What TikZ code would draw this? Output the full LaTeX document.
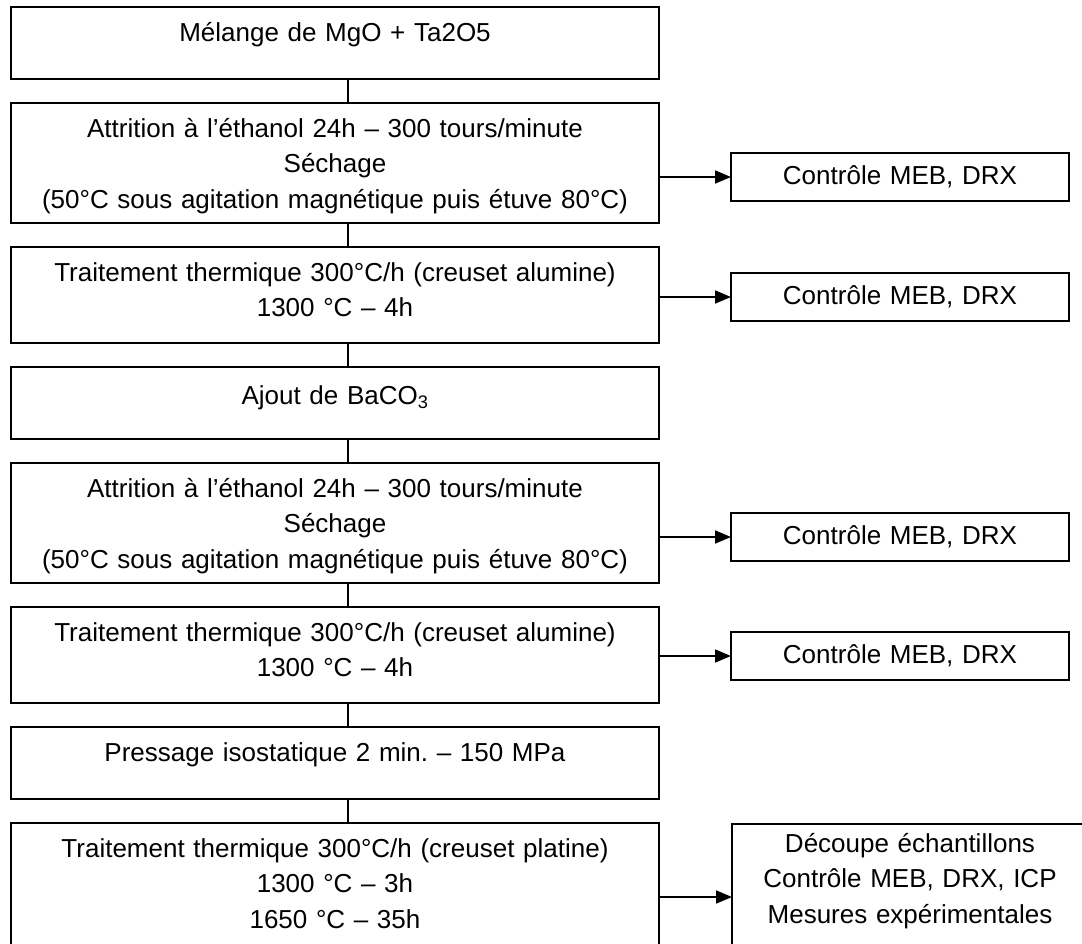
\documentclass[tikz,border=0pt]{standalone}
\usepackage{fontspec}
\setmainfont{Liberation Sans}
\usepackage{tikz}
\usetikzlibrary{arrows.meta,calc,positioning}

\tikzset{
    etape/.style={draw, line width=1.7pt, anchor=north west, inner sep=0pt, outer sep=0pt,
        text width=648pt, align=center, text height=34pt,
        font=\fontsize{26}{35.5}\selectfont},
    controle/.style={draw, line width=1.7pt, anchor=north west, inner sep=0pt, outer sep=0pt,
        text width=338pt, align=center, text height=31pt, text depth=17pt,
        font=\fontsize{26}{35.5}\selectfont},
    lien/.style={line width=1.7pt}
}

\begin{document}
\begin{tikzpicture}[x=1pt, y=-1pt, >={Triangle[length=16pt,width=13pt]}]
    \clip (0,0) rectangle (1082,943);

    % Process steps
    \node[etape, text depth=38pt] (etape1) at (11,7) {M\'elange de MgO + Ta2O5};
    \node[etape, text depth=86pt, below=24pt of etape1] (etape2)
        {Attrition \`a l’\'ethanol 24h – 300 tours/minute\\S\'echage\\(50°C sous agitation magn\'etique puis \'etuve 80°C)};
    \node[etape, text depth=62pt, below=24pt of etape2] (etape3)
        {Traitement thermique 300°C/h (creuset alumine)\\1300 °C – 4h};
    \node[etape, text height=37pt, text depth=35pt, below=24pt of etape3] (etape4)
        {Ajout de BaCO\textsubscript{3}};
    \node[etape, text depth=86pt, below=24pt of etape4] (etape5)
        {Attrition \`a l’\'ethanol 24h – 300 tours/minute\\S\'echage\\(50°C sous agitation magn\'etique puis \'etuve 80°C)};
    \node[etape, text depth=62pt, below=24pt of etape5] (etape6)
        {Traitement thermique 300°C/h (creuset alumine)\\1300 °C – 4h};
    \node[etape, text depth=38pt, below=24pt of etape6] (etape7)
        {Pressage isostatique 2 min.\ – 150 MPa};
    \node[etape, text depth=112pt, below=24pt of etape7] (etape8)
        {Traitement thermique 300°C/h (creuset platine)\\1300 °C – 3h\\1650 °C – 35h};

    % Controls
    \node[controle] (controle1) at (731,153) {Contr\^ole MEB, DRX};
    \node[controle] (controle2) at (731,273) {Contr\^ole MEB, DRX};
    \node[controle] (controle3) at (731,513) {Contr\^ole MEB, DRX};
    \node[controle] (controle4) at (731,632) {Contr\^ole MEB, DRX};
    \node[controle, text width=356pt, text height=28pt, text depth=118pt] (controle5) at (732,824)
        {D\'ecoupe \'echantillons\\Contr\^ole MEB, DRX, ICP\\Mesures exp\'erimentales};

    % Links between steps
    \foreach \a/\b in {1/2,2/3,3/4,4/5,5/6,6/7,7/8}
        \draw[lien] ([xshift=13pt]etape\a.south) -- ([xshift=13pt]etape\b.north);

    % Arrows to controls
    \foreach \e/\c in {2/1,3/2,5/3,6/4,8/5}
        \draw[lien, ->] (controle\c.west -| etape\e.east) -- (controle\c.west);

\end{tikzpicture}
\end{document}
